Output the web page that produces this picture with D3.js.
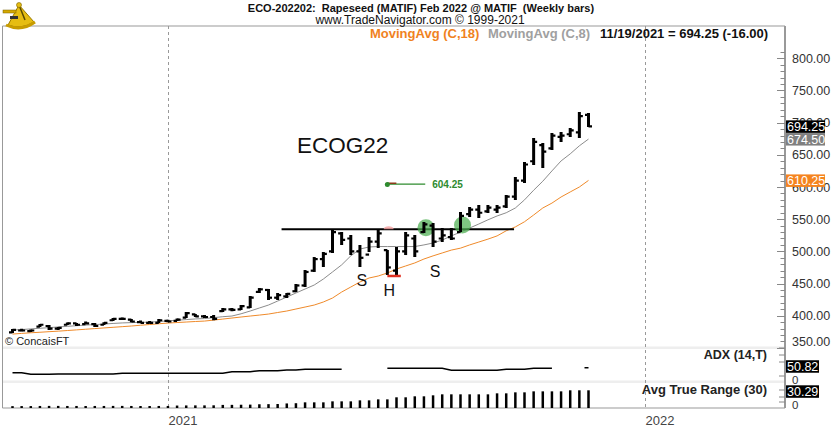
<!DOCTYPE html>
<html><head><meta charset="utf-8">
<script src="https://cdn.jsdelivr.net/npm/d3@7"></script>
<style>body{margin:0;background:#fff}svg{display:block;font-family:Arial,"Liberation Sans",sans-serif}</style>
</head><body><svg id="c" width="840" height="438"></svg>
<script>
const weeks = ["2020-09-04","2020-09-11","2020-09-18","2020-09-25","2020-10-02","2020-10-09","2020-10-16","2020-10-23","2020-10-30","2020-11-06","2020-11-13","2020-11-20","2020-11-27","2020-12-04","2020-12-11","2020-12-18","2020-12-25",
"2021-01-01","2021-01-08","2021-01-15","2021-01-22","2021-01-29","2021-02-05","2021-02-12","2021-02-19","2021-02-26","2021-03-05","2021-03-12","2021-03-19","2021-03-26","2021-04-02","2021-04-09","2021-04-16","2021-04-23","2021-04-30","2021-05-07","2021-05-14","2021-05-21","2021-05-28","2021-06-04","2021-06-11","2021-06-18","2021-06-25","2021-07-02","2021-07-09","2021-07-16","2021-07-23","2021-07-30","2021-08-06","2021-08-13","2021-08-20","2021-08-27","2021-09-03","2021-09-10","2021-09-17","2021-09-24","2021-10-01","2021-10-08","2021-10-15","2021-10-22","2021-10-29","2021-11-05","2021-11-12","2021-11-19"];
const openP  = [374,377,376,383,384,380,386,388,387,387,386,393,395,394,390,389,389,392,392,397,402,399,398,407,410,410,413,437,440,428,430,438,447,470,488,500,528,520,500,495,515,502,470,500,520,530,540,520,522,530,558,565,562,565,570,585,610,640,665,660,678,682,685,712];
const highP  = [379.3,378,378,387,385.5,382.5,388.6,388.6,388.6,388.6,390,396.4,396.4,394.8,390,390,394.8,393,394.8,405.7,402.6,401,401,411.9,411.9,416.6,430.6,443,441.5,435.3,435.3,449.3,471,491.2,499,533.2,530,525.4,510,522.3,533.2,502,506.8,530,525.4,545.6,544,536.3,536.3,561.2,568.9,572,572,572,587.6,615.5,638.9,676.2,668.4,683.9,685.5,691.7,716.5,715];
const lowP   = [373.1,376,374.7,382.5,377.8,377.8,385.5,384,387,382.5,385.5,391.7,393.2,390,388.6,388,388.6,390,391.7,396.4,398,396.4,393,405.7,407,409,411.9,435.3,424.4,424.4,427.5,436.8,444.6,468,475.7,497.5,510,494.3,475.7,499,505.2,463.3,463.3,494.3,491.2,528.5,506.8,514.5,517.6,530,553.4,551.8,559.6,559.6,567.4,579.8,606.2,634.2,629.5,657.5,670,677.7,676.2,693.2];
const closeP = [378,377,377,386,380,381,388,386,388,384,389,395,395,391,389,389,393,391,394,404,399,398,395,410,409,415,428,441,428,432,434,447,468,488,496,530,518,500,490,515,528,475,500,525,500,542,515,525,520,555,565,560,568,568,585,610,635,670,655,680,680,688,710.25,694.25];
const ma8  = [377.8,378.5,379.5,380.5,381.5,382.5,383.5,384.5,385.5,386.2,387,388,388.8,389.3,389.7,390,391,392,393,394,395,395.6,397,398.5,399.5,403,407.3,412,416.6,422.8,429,435.3,441.5,447.7,457,468,479,493,503.6,506.8,507.5,507.5,507.5,507.5,507.5,510,513,517.6,524,530,536.3,542.5,549,555,560,567.4,580,595,609,625,640.5,651.5,664,674.5];
const ma18 = [371.5,372.5,373.5,374.3,375.2,376,377,378,379,380,381,382,383,384,385.2,386.3,387.5,388.6,389.4,390.2,391,391.7,393.2,394.8,396.4,398,399.5,401,402.6,405,407.3,410.4,413.5,416.6,421.3,427.5,436.8,444.6,452.4,458.6,461.7,466.4,472.6,477.3,482,488.1,493,497.5,502,505,510,514.5,519,524,532,538,546,556.5,567.4,575,584.5,592.3,600,610.25];
const adx = [23.9,23.9,16.7,16.7,16.7,18,18,18,18,18,18,18,21,21,21,21,21,21,21,21,21,21,21,21,28.4,28.4,28.4,32.9,32.9,32.9,36,36,39.2,39.2,39.2,39.2,39.2,null,null,null,null,43.7,43.7,43.7,43.7,43.7,43.7,43.7,34.7,34.7,34.7,34.7,34.7,34.7,39.2,39.2,39.2,43.7,43.7,43.7,null,null,null,50.82];
const atr = [3.2,3.3,3.3,3.5,3.6,3.6,3.5,3.5,3.4,3.5,3.5,3.6,3.6,3.5,3.4,3.4,3.5,3.5,4.2,4.4,4.5,4.5,4.6,5.3,5.4,5.6,5.8,6.4,6.6,6.8,7.8,8.2,9.7,9.7,9.7,11.4,11.4,11.4,13.1,13.1,14.8,14.8,18.3,18.3,20,20,21.7,23.4,23.4,23.4,23.4,23.4,23.4,25.1,25.1,26.8,26.8,28.5,28.5,28.5,28.5,30.3,30.3,30.29];
const priceTicks = [350,400,450,500,550,600,650,700,750,800];
const yearTicks = ["2021-01-01","2022-01-01"];
const yearLabels = ["2021","2022"];
const neckline = {from:"2021-03-29", to:"2021-09-23", value:534.5};
const circles = [{d:"2021-07-16", v:536.6}, {d:"2021-08-13", v:541}];
const shLabels = [{t:"S", d:"2021-05-28", v:456},{t:"H", d:"2021-06-18", v:440},{t:"S", d:"2021-07-23", v:470}];
const lowMark = {from:"2021-06-18", to:"2021-06-26", v:463.3};
const target = {from:"2021-06-18", to:"2021-07-17", v:604.5, label:"604.25"};

const parse = d3.timeParse("%Y-%m-%d");
const dates = weeks.map(parse);
const svg = d3.select("#c");
const L=2.5, R=785, T=26, B=408;
const x = d3.scaleTime().domain([dates[0], dates[dates.length-1]]).range([12.5, 588.5]);
const y = d3.scaleLinear().domain([350,800]).range([347.9,58.3]);
const yAdx = d3.scaleLinear().domain([0,60]).range([378,364.7]);
const yAtr = d3.scaleLinear().domain([0,32]).range([408,389.3]);

svg.append("defs").append("clipPath").attr("id","pc").append("rect").attr("x",L).attr("y",T).attr("width",R-L).attr("height",346-T);

svg.append("rect").attr("x",L).attr("y",346.5).attr("width",R-L).attr("height",2.5).attr("fill","#eeeeee");
svg.append("rect").attr("x",L).attr("y",380.5).attr("width",R-L).attr("height",2.5).attr("fill","#eeeeee");

yearTicks.forEach((d,i)=>{
  const xx = Math.round(x(parse(d)))+0.5;
  svg.append("line").attr("x1",xx).attr("x2",xx).attr("y1",T).attr("y2",B).attr("stroke","#999").attr("stroke-dasharray","3,3");
  svg.append("text").attr("x",xx).attr("y",425).attr("font-size",13).attr("fill","#444").text(yearLabels[i]);
});

svg.append("line").attr("x1",L).attr("x2",R).attr("y1",T).attr("y2",T).attr("stroke","#999");
svg.append("line").attr("x1",L).attr("x2",L).attr("y1",T).attr("y2",B).attr("stroke","#999");
svg.append("line").attr("x1",L).attr("x2",R).attr("y1",B).attr("y2",B).attr("stroke","#999");

const pg = svg.append("g").attr("clip-path","url(#pc)");
const lineMA = arr => d3.line().x((d,i)=>x(dates[i])).y(d=>y(d))(arr);
pg.append("path").attr("d",lineMA(ma18)).attr("fill","none").attr("stroke","#ef8a2a").attr("stroke-width",1);
pg.append("path").attr("d",lineMA(ma8)).attr("fill","none").attr("stroke","#8c8c8c").attr("stroke-width",1);

pg.append("line").attr("x1",x(parse(neckline.from))).attr("x2",x(parse(neckline.to)))
  .attr("y1",y(neckline.value)).attr("y2",y(neckline.value)).attr("stroke","#000").attr("stroke-width",2);

pg.append("path").attr("d",`M${x(parse("2021-06-19"))-5},${y(534.5)} a5,3 0 0,1 10,0 Z`).attr("fill","#f4a0a0").attr("opacity",0.8);

pg.selectAll(".gc").data(circles).join("circle").attr("cx",d=>x(parse(d.d))+2).attr("cy",d=>y(d.v)).attr("r",8.5)
  .attr("fill","#4caf50").attr("opacity",0.72);

const bars = pg.selectAll(".bar").data(dates).join("g");
bars.append("line").attr("x1",(d)=>x(d)).attr("x2",d=>x(d))
  .attr("y1",(d,i)=>Math.min(y(highP[i]), y(lowP[i])-2.5)).attr("y2",(d,i)=>y(lowP[i]))
  .attr("stroke","#000").attr("stroke-width",3);
bars.append("line").attr("x1",d=>x(d)-3.5).attr("x2",d=>x(d)).attr("y1",(d,i)=>y(openP[i])).attr("y2",(d,i)=>y(openP[i])).attr("stroke","#000").attr("stroke-width",2.2);
bars.append("line").attr("x1",d=>x(d)).attr("x2",d=>x(d)+3.5).attr("y1",(d,i)=>y(closeP[i])).attr("y2",(d,i)=>y(closeP[i])).attr("stroke","#000").attr("stroke-width",2.2);

pg.append("line").attr("x1",x(parse(lowMark.from))).attr("x2",x(parse(lowMark.to))+3).attr("y1",y(lowMark.v)+1).attr("y2",y(lowMark.v)+1).attr("stroke","#e03020").attr("stroke-width",2.5);

const tx1=x(parse(target.from)), tx2=x(parse(target.to)), ty=y(target.v);
pg.append("line").attr("x1",tx1).attr("x2",tx2).attr("y1",ty).attr("y2",ty).attr("stroke","#2e8b2e").attr("stroke-width",1.2);
pg.append("line").attr("x1",tx1).attr("x2",tx1+9).attr("y1",ty-0.8).attr("y2",ty-0.8).attr("stroke","#8b3a1a").attr("stroke-width",1.5);
pg.append("circle").attr("cx",tx1).attr("cy",ty+0.5).attr("r",2.5).attr("fill","#2e8b2e");
pg.append("text").attr("x",tx2+7).attr("y",ty+3.5).attr("font-size",10).attr("font-weight","bold").attr("fill","#2e8b2e").text(target.label);

pg.selectAll(".sh").data(shLabels).join("text").attr("x",d=>x(parse(d.d))+2).attr("y",d=>y(d.v)+6)
  .attr("text-anchor","middle").attr("font-size",16).attr("fill","#111").text(d=>d.t);

pg.append("text").attr("x",297).attr("y",153).attr("font-size",22.5).attr("fill","#111").text("ECOG22");
svg.append("text").attr("x",5).attr("y",345).attr("font-size",11).attr("fill","#222").text("© ConcaisFT");

const adxLine = d3.line().defined(d=>d!=null).x((d,i)=>x(dates[i])).y(d=>yAdx(d));
svg.append("path").attr("d",adxLine(adx)).attr("fill","none").attr("stroke","#000").attr("stroke-width",1.5);
adx.forEach((v,i)=>{
  if(v!=null && (i===0||adx[i-1]==null) && (i===adx.length-1||adx[i+1]==null)){
    svg.append("line").attr("x1",x(dates[i])-4).attr("x2",x(dates[i])).attr("y1",yAdx(v)+1).attr("y2",yAdx(v)+1).attr("stroke","#000").attr("stroke-width",1.5);
  }
});

svg.selectAll(".atr").data(atr).join("line").attr("x1",(d,i)=>x(dates[i])).attr("x2",(d,i)=>x(dates[i]))
  .attr("y1",d=>yAtr(d)).attr("y2",yAtr(0)).attr("stroke","#000").attr("stroke-width",2.5);

svg.append("line").attr("x1",R).attr("x2",R).attr("y1",T).attr("y2",B).attr("stroke","#999").attr("stroke-width",2);
const minors = d3.range(350,811,10);
svg.selectAll(".mt").data(minors).join("line").attr("x1",d=>d%50===0?777:780.5).attr("x2",R).attr("y1",d=>Math.round(y(d))+0.5).attr("y2",d=>Math.round(y(d))+0.5).attr("stroke","#888");
svg.selectAll(".pl").data(priceTicks).join("text").attr("x",792).attr("y",d=>d===350?346:y(d)+4.5).attr("font-size",12.5).attr("fill","#333").text(d=>d.toFixed(2));
[348,355,362,376].forEach(v=>svg.append("line").attr("x1",779).attr("x2",R).attr("y1",v).attr("y2",v).attr("stroke","#888"));
[390,397,402].forEach(v=>svg.append("line").attr("x1",779).attr("x2",R).attr("y1",v).attr("y2",v).attr("stroke","#888"));

function box(yc, txt, bg, w){
  svg.append("rect").attr("x",786).attr("y",yc-6).attr("width",w||39).attr("height",12.5).attr("fill",bg);
  svg.append("text").attr("x",787).attr("y",yc+4.5).attr("font-size",12.5).attr("fill","#fff").text(txt);
}
box(y(closeP[63]), closeP[63].toFixed(2), "#000");
box(y(ma8[63]), ma8[63].toFixed(2), "#808080");
box(y(ma18[63]), ma18[63].toFixed(2), "#f5841f");
box(yAdx(adx[63])-0.5, adx[63].toFixed(2), "#000", 33);
svg.append("text").attr("x",792).attr("y",384).attr("font-size",11.5).attr("fill","#333").text("0");
box(yAtr(atr[63])+1, atr[63].toFixed(2), "#000", 33);
svg.append("text").attr("x",792).attr("y",409).attr("font-size",11.5).attr("fill","#333").text("0");

svg.append("text").attr("x",767).attr("y",359).attr("text-anchor","end").attr("font-size",12.5).attr("font-weight","bold").attr("fill","#222").text("ADX (14,T)");
svg.append("text").attr("x",767).attr("y",393.5).attr("text-anchor","end").attr("font-size",13).attr("font-weight","bold").attr("fill","#222").text("Avg True Range (30)");

svg.append("text").attr("x",421).attr("y",11.5).attr("text-anchor","middle").attr("font-size",11).attr("font-weight","bold").attr("fill","#111").attr("xml:space","preserve").text("ECO-202202:  Rapeseed (MATIF) Feb 2022 @ MATIF  (Weekly bars)");
svg.append("text").attr("x",420).attr("y",24).attr("text-anchor","middle").attr("font-size",12).attr("fill","#111").text("www.TradeNavigator.com © 1999-2021");
svg.append("text").attr("x",370).attr("y",38).attr("font-size",13).attr("font-weight","bold").attr("fill","#f0821e").text("MovingAvg (C,18)");
svg.append("text").attr("x",488).attr("y",38).attr("font-size",13).attr("font-weight","bold").attr("fill","#a0a0a0").text("MovingAvg (C,8)");
svg.append("text").attr("x",600).attr("y",38).attr("font-size",13).attr("font-weight","bold").attr("fill","#111").text("11/19/2021 = 694.25 (-16.00)");

const lg = svg.append("g");
lg.append("path").attr("d","M19,5 L8,25 Q21,30 34,22 Z").attr("fill","#e6bd12").attr("stroke","#9a7a00").attr("stroke-width",1);
lg.append("path").attr("d","M6,25 Q21,32 35,22").attr("fill","none").attr("stroke","#c89c00").attr("stroke-width",3);
lg.append("rect").attr("x",3).attr("y",10).attr("width",13).attr("height",3).attr("fill","#d4a800").attr("stroke","#7a6000").attr("stroke-width",0.5);
lg.append("line").attr("x1",19).attr("x2",25).attr("y1",5).attr("y2",20).attr("stroke","#5a4a00").attr("stroke-width",1.5);
lg.append("circle").attr("cx",19).attr("cy",5).attr("r",2.5).attr("fill","#e6bd12").attr("stroke","#7a6000").attr("stroke-width",0.6);
lg.append("rect").attr("x",10).attr("y",16).attr("width",8).attr("height",3).attr("fill","#333");
</script></body></html>
